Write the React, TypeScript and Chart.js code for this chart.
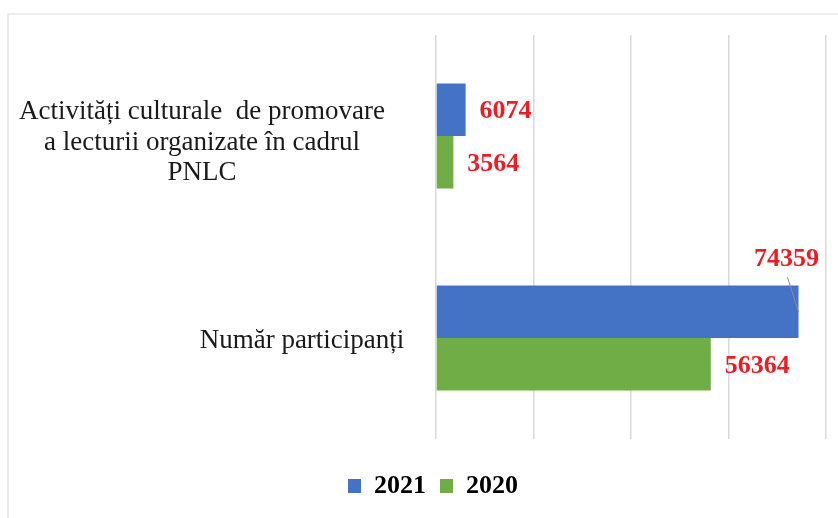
import React, { useEffect, useRef } from "react";
import { Chart, registerables } from "chart.js";

Chart.register(...registerables);

const categories: string[][] = [
  ["Activități culturale  de promovare", "a lecturii organizate în cadrul", "PNLC"],
  ["Număr participanți"],
];
const values2021: number[] = [6074, 74359];
const values2020: number[] = [3564, 56364];
const seriesNames: string[] = ["2021", "2020"];
const axisMax = 80000;
const axisStep = 20000;

const BLUE = "#4472C4";
const GREEN = "#70AD47";
const RED = "#ED1C24";

const categoryLabelPlugin = {
  id: "categoryLabels",
  afterDraw(chart: any) {
    const y = chart.scales.y;
    const ctx = chart.ctx;
    const centers = [202, 302];
    const shifts = [4, 0];
    const lh = 30.5;
    ctx.save();
    ctx.font = "27px 'Liberation Serif', 'Times New Roman', serif";
    ctx.fillStyle = "#1a1a1a";
    ctx.textAlign = "center";
    ctx.textBaseline = "alphabetic";
    categories.forEach((lines, i) => {
      const cy = y.getPixelForTick(i);
      const n = lines.length;
      lines.forEach((line, j) => {
        const by = cy + (j - (n - 1) / 2) * lh + 9.5 + shifts[i];
        ctx.fillText(line, centers[i], by);
      });
    });
    ctx.restore();
  },
};

const valueLabelPlugin = {
  id: "valueLabels",
  afterDatasetsDraw(chart: any) {
    const ctx = chart.ctx;
    const area = chart.chartArea;
    ctx.save();
    ctx.font = "bold 26px 'Liberation Serif', 'Times New Roman', serif";
    ctx.fillStyle = RED;
    ctx.textBaseline = "middle";
    chart.data.datasets.forEach((ds: any, di: number) => {
      const meta = chart.getDatasetMeta(di);
      meta.data.forEach((bar: any, i: number) => {
        const v = ds.data[i];
        const text = String(v);
        const w = ctx.measureText(text).width;
        const end = bar.x;
        const top = bar.y - bar.height / 2;
        if (end + 14 + w > area.right) {
          ctx.textAlign = "center";
          ctx.fillText(text, end - 12, top - 26);
          ctx.strokeStyle = "#8c8c8c";
          ctx.lineWidth = 1;
          ctx.beginPath();
          ctx.moveTo(end - 11, top - 8);
          ctx.lineTo(end, bar.y);
          ctx.stroke();
        } else {
          ctx.textAlign = "left";
          ctx.fillText(text, end + 14, bar.y + 2);
        }
      });
    });
    ctx.restore();
  },
};

export default function App() {
  const ref = useRef<HTMLCanvasElement | null>(null);
  useEffect(() => {
    if (!ref.current) return;
    const chart = new Chart(ref.current, {
      type: "bar",
      data: {
        labels: categories,
        datasets: [
          {
            label: seriesNames[0],
            data: values2021,
            backgroundColor: BLUE,
            borderWidth: 0,
            barPercentage: 1,
            categoryPercentage: 0.52,
          },
          {
            label: seriesNames[1],
            data: values2020,
            backgroundColor: GREEN,
            borderWidth: 0,
            barPercentage: 1,
            categoryPercentage: 0.52,
          },
        ],
      },
      options: {
        indexAxis: "y",
        responsive: false,
        animation: false,
        devicePixelRatio: 1,
        layout: { padding: { left: 40, right: 12, top: 35, bottom: 9 } },
        scales: {
          x: {
            min: 0,
            max: axisMax,
            ticks: { display: false, stepSize: axisStep },
            grid: { color: "#d9d9d9", lineWidth: 1.5, drawTicks: false },
            border: { display: false },
            afterFit: (s: any) => {
              s.height = 20;
            },
          },
          y: {
            ticks: { display: false },
            grid: { display: false },
            border: { display: false },
            afterFit: (s: any) => {
              s.width = 396;
            },
          },
        },
        plugins: {
          legend: {
            position: "bottom",
            labels: {
              font: { family: "'Liberation Serif', 'Times New Roman', serif", size: 26, weight: "bold" },
              color: "#000",
              boxWidth: 13,
              boxHeight: 14,
              padding: 14,
            },
          },
          tooltip: { enabled: false },
        },
      },
      plugins: [categoryLabelPlugin, valueLabelPlugin],
    });
    return () => chart.destroy();
  }, []);

  return (
    <div style={{ position: "fixed", left: 0, top: 0, width: 838, height: 518, background: "#fff", overflow: "hidden" }}>
      <div
        style={{
          position: "absolute",
          left: 7,
          top: 13,
          width: 900,
          height: 600,
          borderLeft: "2px solid #ececec",
          borderTop: "2px solid #ececec",
        }}
      />
      <canvas ref={ref} width={838} height={518} style={{ position: "absolute", left: 0, top: 0 }} />
    </div>
  );
}
